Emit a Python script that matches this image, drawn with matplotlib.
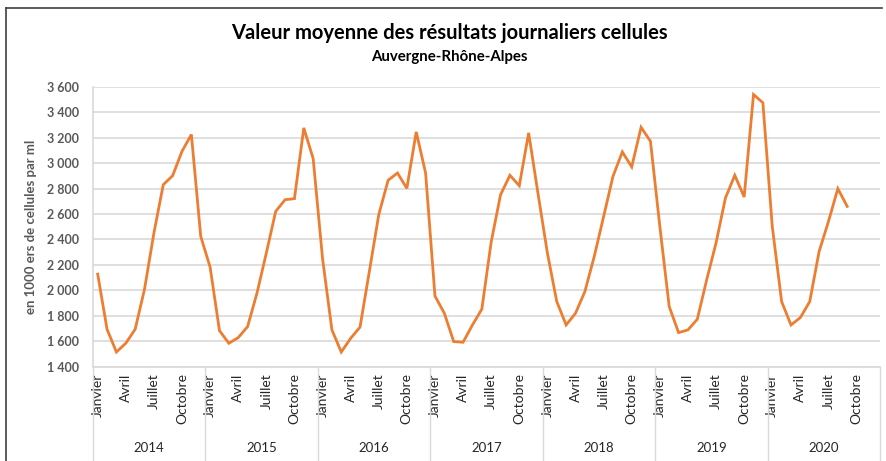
import numpy as np
import matplotlib
matplotlib.use("Agg")
import matplotlib.pyplot as plt
from matplotlib.lines import Line2D

plt.rcParams['font.family'] = ['Lato', 'DejaVu Sans']

# DATA
years = ['2014', '2015', '2016', '2017', '2018', '2019', '2020']
month_labels = ['Janvier', 'Avril', 'Juillet', 'Octobre']
month_label_pos = [0, 3, 6, 9]
values = [
    2127, 1693, 1514, 1583, 1693, 2009, 2450, 2831, 2902, 3094, 3226, 2424,   # 2014
    2182, 1682, 1583, 1627, 1714, 1977, 2293, 2621, 2713, 2721, 3278, 3036,   # 2015
    2250, 1688, 1514, 1622, 1710, 2150, 2595, 2866, 2923, 2802, 3247, 2923,   # 2016
    1955, 1819, 1596, 1591, 1727, 1851, 2380, 2752, 2905, 2823, 3239, 2760,   # 2017
    2293, 1911, 1727, 1819, 1990, 2266, 2580, 2897, 3089, 2971, 3283, 3173,   # 2018
    2503, 1872, 1667, 1688, 1772, 2082, 2372, 2726, 2905, 2734, 3541, 3476,   # 2019
    2503, 1911, 1727, 1785, 1911, 2305, 2542, 2800, 2660,                     # 2020
]
yticks = np.arange(1400, 3601, 200)

W, H = 886, 461
fig = plt.figure(figsize=(W / 100, H / 100), dpi=100)
ax = fig.add_axes([93 / W, 1 - 366.5 / H, (880 - 93) / W, (366.5 - 87) / H])

x = np.arange(len(values))
ax.plot(x, values, color='#ED7D31', lw=2.0, solid_joinstyle='miter', zorder=3)

n_cat = 12 * len(years)
ax.set_xlim(-0.5, n_cat - 0.5)
ax.set_ylim(1400, 3600)

# y axis
ax.set_yticks(yticks)
ax.set_yticklabels([f'{v:,}'.replace(',', ' ') for v in yticks],
                   fontsize=9, fontweight='bold', color='#595959')
ax.tick_params(axis='y', length=0, pad=10)
ax.yaxis.grid(True, color='#D9D9D9', lw=1.2)
ax.set_axisbelow(True)
ax.set_ylabel('en 1000 ers de cellules par ml', fontsize=9.5, fontweight='bold',
              color='#595959')
ax.yaxis.set_label_coords((37 - 93) / (880 - 93), 0.5)

# x axis : months then years
ticks, labels = [], []
for k in range(len(years)):
    for p, m in zip(month_label_pos, month_labels):
        ticks.append(12 * k + p)
        labels.append(m)
ax.set_xticks(ticks)
ax.set_xticklabels(labels, rotation=90, fontsize=10, color='#262626', va='top', ha='center')
ax.tick_params(axis='x', length=0, pad=5)

axh = 366.5 - 87
for k in range(len(years) + 1):
    ax.plot([12 * k - 0.5, 12 * k - 0.5], [0, -(460 - 366.5) / axh],
            transform=ax.get_xaxis_transform(), color='#D9D9D9', lw=1.0, clip_on=False)
for k, yr in enumerate(years):
    ax.text(12 * k + 5.5, -(448 - 366.5) / axh, yr, transform=ax.get_xaxis_transform(),
            ha='center', va='center', fontsize=9.5, color='#262626')

for s in ['top', 'right']:
    ax.spines[s].set_visible(False)
ax.spines['left'].set_color('#D9D9D9')
ax.spines['bottom'].set_color('#D9D9D9')
ax.spines['left'].set_linewidth(1.2)
ax.spines['bottom'].set_linewidth(1.2)

# titles
fig.text(449 / W, 1 - 33 / H, 'Valeur moyenne des résultats journaliers cellules',
         ha='center', va='center', fontsize=14.5, fontweight='bold', color='#000000')
fig.text(449 / W, 1 - 57 / H, 'Auvergne-Rhône-Alpes',
         ha='center', va='center', fontsize=10.8, fontweight='bold', color='#000000')

# chart frame (left and top edges visible)
fig.add_artist(Line2D([6 / W, 6 / W], [0, 1 - 8 / H], color='#404040', lw=1.2))
fig.add_artist(Line2D([6 / W, 882 / W], [1 - 8 / H, 1 - 8 / H], color='#404040', lw=1.2))

fig.savefig('out.png', dpi=100)
